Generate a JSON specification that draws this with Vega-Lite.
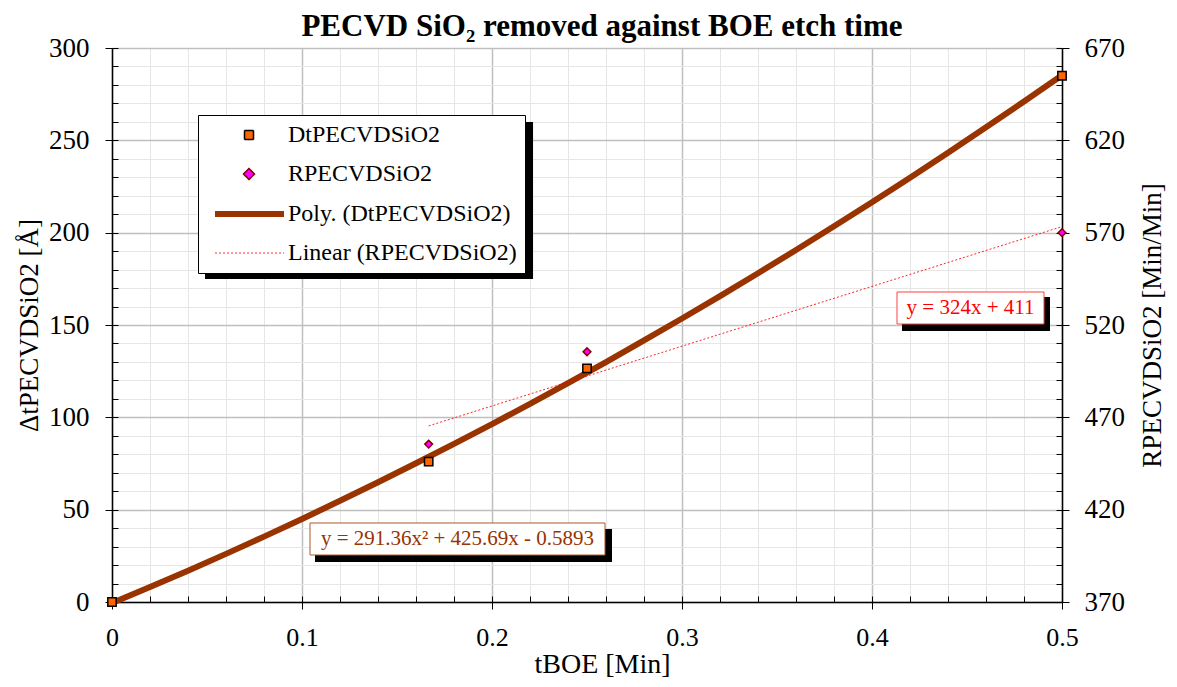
{
  "$schema": "https://vega.github.io/schema/vega-lite/v6.json",
  "width": 950,
  "height": 554,
  "autosize": "none",
  "padding": {"left": 112, "top": 48, "right": 115, "bottom": 85},
  "background": "white",
  "title": {"text": "PECVD SiO₂ removed against BOE etch time", "fontSize": 31, "font": "Liberation Serif", "fontWeight": "bold", "offset": -9, "dx": 15, "anchor": "middle", "color": "black"},
  "config": {
    "font": "Liberation Serif",
    "view": {"stroke": "#555555"},
    "axis": {"labelColor": "black", "titleColor": "black", "titleFontWeight": "normal", "labelFont": "Liberation Serif", "titleFont": "Liberation Serif", "labelFlush": false, "labelOverlap": false},
    "legend": {"orient": "none", "legendX": 86, "legendY": 67, "fillColor": "white", "strokeColor": "black", "padding": 8, "cornerRadius": 0, "labelFont": "Liberation Serif", "labelFontSize": 24, "labelColor": "black", "labelOffset": 56, "labelLimit": 400, "rowPadding": 15, "symbolSize": 400, "symbolOpacity": 1}
  },
  "datasets": {
    "dt": [
      {"t": 0, "dt": 0, "series": "DtPECVDSiO2"},
      {"t": 0.16667, "dt": 76, "series": "DtPECVDSiO2"},
      {"t": 0.25, "dt": 126.5, "series": "DtPECVDSiO2"},
      {"t": 0.5, "dt": 285, "series": "DtPECVDSiO2"}
    ],
    "r": [
      {"t": 0.16667, "r": 455.5, "series": "RPECVDSiO2"},
      {"t": 0.25, "r": 505.5, "series": "RPECVDSiO2"},
      {"t": 0.5, "r": 570, "series": "RPECVDSiO2"}
    ],
    "one": [{"note": "annotation"}]
  },
  "layer": [
    {
      "resolve": {"axis": {"x": "independent", "y": "independent"}},
      "layer": [
        {
          "data": {"name": "dt"},
          "mark": {"type": "point", "opacity": 0},
          "encoding": {
            "x": {"field": "t", "type": "quantitative", "scale": {"domain": [0, 0.5], "nice": false, "zero": false},
              "axis": {"orient": "bottom", "values": [0,0.02,0.04,0.06,0.08,0.1,0.12,0.14,0.16,0.18,0.2,0.22,0.24,0.26,0.28,0.3,0.32,0.34,0.36,0.38,0.4,0.42,0.44,0.46,0.48,0.5], "grid": true, "gridColor": "#e6e6e6", "gridWidth": 1, "labels": false, "ticks": true, "tickSize": -6, "tickColor": "black", "tickWidth": 1, "domain": false, "title": null}},
            "y": {"field": "dt", "type": "quantitative", "scale": {"domain": [0, 300], "nice": false, "zero": false},
              "axis": {"orient": "left", "values": [0,10,20,30,40,50,60,70,80,90,100,110,120,130,140,150,160,170,180,190,200,210,220,230,240,250,260,270,280,290,300], "grid": true, "gridColor": "#e6e6e6", "gridWidth": 1, "labels": false, "ticks": true, "tickSize": -6, "tickColor": "black", "tickWidth": 1, "domain": false, "title": null}}
          }
        },
        {
          "data": {"name": "dt"},
          "mark": {"type": "point", "opacity": 0},
          "encoding": {
            "x": {"field": "t", "type": "quantitative",
              "axis": {"orient": "bottom", "values": [0, 0.1, 0.2, 0.3, 0.4, 0.5], "format": "~g", "grid": true, "gridColor": "#bfbfbf", "gridWidth": 1.5, "tickSize": 7, "tickColor": "black", "tickWidth": 1, "domain": true, "domainColor": "black", "domainWidth": 1.5, "labelFontSize": 26, "labelPadding": 15, "title": "tBOE [Min]", "titleFontSize": 28, "titlePadding": 0, "titleX": 490}},
            "y": {"field": "dt", "type": "quantitative",
              "axis": {"orient": "left", "values": [0, 50, 100, 150, 200, 250, 300], "grid": true, "gridColor": "#bfbfbf", "gridWidth": 1.5, "tickSize": 7, "tickColor": "black", "tickWidth": 1, "domain": true, "domainColor": "black", "domainWidth": 1.5, "labelFontSize": 27, "labelPadding": 16, "title": "ΔtPECVDSiO2 [Å]", "titleFontSize": 27, "titlePadding": 5}}
          }
        },
        {
          "data": {"name": "dt"},
          "transform": [{"regression": "dt", "on": "t", "method": "poly", "order": 2}],
          "mark": {"type": "line", "color": "#993300", "strokeWidth": 6, "strokeCap": "butt"},
          "encoding": {
            "x": {"field": "t", "type": "quantitative", "axis": null},
            "y": {"field": "dt", "type": "quantitative", "axis": null}
          }
        },
        {
          "data": {"name": "one"},
          "mark": {"type": "rect", "color": "black"},
          "encoding": {
            "x": {"datum": 0.04895, "type": "quantitative", "axis": null}, "x2": {"datum": 0.2216},
            "y": {"datum": 259.9, "type": "quantitative", "axis": null}, "y2": {"datum": 174.9}
          }
        },
        {
          "data": {"name": "one"},
          "mark": {"type": "rect", "color": "black"},
          "encoding": {
            "x": {"datum": 0.10684, "type": "quantitative", "axis": null}, "x2": {"datum": 0.26316},
            "y": {"datum": 39.53, "type": "quantitative", "axis": null}, "y2": {"datum": 21.66}
          }
        },
        {
          "data": {"name": "one"},
          "mark": {"type": "rect", "fill": "white", "stroke": "#b0582a", "strokeWidth": 1},
          "encoding": {
            "x": {"datum": 0.10421, "type": "quantitative", "axis": null}, "x2": {"datum": 0.25947},
            "y": {"datum": 42.78, "type": "quantitative", "axis": null}, "y2": {"datum": 25.45}
          }
        },
        {
          "data": {"name": "one"},
          "mark": {"type": "text", "text": "y = 291.36x² + 425.69x - 0.5893", "color": "#993300", "fontSize": 21, "font": "Liberation Serif", "align": "center", "baseline": "middle"},
          "encoding": {
            "x": {"datum": 0.18184, "type": "quantitative", "axis": null},
            "y": {"datum": 34.11, "type": "quantitative", "axis": null}
          }
        },
        {
          "data": {"name": "one"},
          "mark": {"type": "rect", "color": "black"},
          "encoding": {
            "x": {"datum": 0.41579, "type": "quantitative", "axis": null}, "x2": {"datum": 0.49368},
            "y": {"datum": 165.16, "type": "quantitative", "axis": null}, "y2": {"datum": 146.75}
          }
        },
        {
          "data": {"name": "one"},
          "mark": {"type": "rect", "fill": "white", "stroke": "#ff4040", "strokeWidth": 1},
          "encoding": {
            "x": {"datum": 0.41316, "type": "quantitative", "axis": null}, "x2": {"datum": 0.49053},
            "y": {"datum": 167.87, "type": "quantitative", "axis": null}, "y2": {"datum": 150.54}
          }
        },
        {
          "data": {"name": "one"},
          "mark": {"type": "text", "text": "y = 324x + 411", "color": "#ff0000", "fontSize": 21, "font": "Liberation Serif", "align": "center", "baseline": "middle"},
          "encoding": {
            "x": {"datum": 0.45184, "type": "quantitative", "axis": null},
            "y": {"datum": 159.2, "type": "quantitative", "axis": null}
          }
        },
        {
          "data": {"name": "dt"},
          "mark": {"type": "point", "shape": "square", "filled": true, "fill": "#ff6600", "stroke": "black", "strokeWidth": 1.5, "size": 70, "opacity": 1},
          "encoding": {
            "x": {"field": "t", "type": "quantitative", "axis": null},
            "y": {"field": "dt", "type": "quantitative", "axis": null}
          }
        },
        {
          "data": {"name": "dt"},
          "transform": [{"filter": "datum.t < 0"}],
          "mark": {"type": "point", "filled": true},
          "encoding": {
            "x": {"field": "t", "type": "quantitative", "axis": null},
            "y": {"field": "dt", "type": "quantitative", "axis": null},
            "fill": {"field": "series", "type": "nominal",
              "scale": {"domain": ["DtPECVDSiO2", "RPECVDSiO2", "Poly. (DtPECVDSiO2)", "Linear (RPECVDSiO2)"], "range": ["#ff6600", "#ff00ff", "transparent", "transparent"]},
              "legend": {"title": null, "labelExpr": "datum.label + '\u2006\u2006\u2006'"}},
            "stroke": {"field": "series", "type": "nominal",
              "scale": {"domain": ["DtPECVDSiO2", "RPECVDSiO2", "Poly. (DtPECVDSiO2)", "Linear (RPECVDSiO2)"], "range": ["#000000", "#800000", "#993300", "#ff3333"]},
              "legend": {"title": null, "labelExpr": "datum.label + '\u2006\u2006\u2006'"}},
            "shape": {"field": "series", "type": "nominal",
              "scale": {"domain": ["DtPECVDSiO2", "RPECVDSiO2", "Poly. (DtPECVDSiO2)", "Linear (RPECVDSiO2)"], "range": ["M2.55,-0.45H3.45V0.45H2.55Z", "M3.0,-0.55L3.55,0L3.0,0.55L2.45,0Z", "M-0.4,0L6.5,0", "M-0.4,0L6.5,0"]},
              "legend": {"title": null, "labelExpr": "datum.label + '\u2006\u2006\u2006'"}},
            "strokeWidth": {"field": "series", "type": "ordinal",
              "scale": {"type": "ordinal", "domain": ["DtPECVDSiO2", "RPECVDSiO2", "Poly. (DtPECVDSiO2)", "Linear (RPECVDSiO2)"], "range": [1.5, 1.5, 6, 1]},
              "legend": {"title": null, "labelExpr": "datum.label + '\u2006\u2006\u2006'"}},
            "strokeDash": {"field": "series", "type": "nominal",
              "scale": {"domain": ["DtPECVDSiO2", "RPECVDSiO2", "Poly. (DtPECVDSiO2)", "Linear (RPECVDSiO2)"], "range": [[1, 0], [1, 0], [1, 0], [2, 2]]},
              "legend": {"title": null, "labelExpr": "datum.label + '\u2006\u2006\u2006'"}}
          }
        }
      ]
    },
    {
      "resolve": {"axis": {"x": "independent", "y": "independent"}},
      "layer": [
        {
          "data": {"name": "r"},
          "mark": {"type": "point", "opacity": 0},
          "encoding": {
            "x": {"field": "t", "type": "quantitative", "axis": null},
            "y": {"field": "r", "type": "quantitative", "scale": {"domain": [370, 670], "nice": false, "zero": false},
              "axis": {"orient": "right", "values": [370,380,390,400,410,420,430,440,450,460,470,480,490,500,510,520,530,540,550,560,570,580,590,600,610,620,630,640,650,660,670], "grid": false, "labels": false, "ticks": true, "tickSize": -6, "tickColor": "black", "tickWidth": 1, "domain": false, "title": null}}
          }
        },
        {
          "data": {"name": "r"},
          "mark": {"type": "point", "opacity": 0},
          "encoding": {
            "x": {"field": "t", "type": "quantitative", "axis": null},
            "y": {"field": "r", "type": "quantitative",
              "axis": {"orient": "right", "values": [370, 420, 470, 520, 570, 620, 670], "grid": false, "tickSize": 7, "tickColor": "black", "tickWidth": 1, "domain": true, "domainColor": "black", "domainWidth": 1.5, "labelFontSize": 27, "labelPadding": 15, "title": "RPECVDSiO2 [Min/Min]", "titleFontSize": 27, "titlePadding": 15, "titleAngle": 270, "titleBaseline": "top"}}
          }
        },
        {
          "data": {"name": "r"},
          "transform": [{"regression": "r", "on": "t"}],
          "mark": {"type": "line", "color": "#ff0000", "strokeWidth": 1, "strokeDash": [2, 2], "opacity": 0.85},
          "encoding": {
            "x": {"field": "t", "type": "quantitative", "axis": null},
            "y": {"field": "r", "type": "quantitative", "axis": null}
          }
        },
        {
          "data": {"name": "r"},
          "mark": {"type": "point", "shape": "diamond", "filled": true, "fill": "#ff00ff", "stroke": "#800000", "strokeWidth": 1.5, "size": 60, "opacity": 1},
          "encoding": {
            "x": {"field": "t", "type": "quantitative", "axis": null},
            "y": {"field": "r", "type": "quantitative", "axis": null}
          }
        }
      ]
    }
  ],
  "resolve": {"scale": {"y": "independent"}, "axis": {"x": "independent", "y": "independent"}}
}
